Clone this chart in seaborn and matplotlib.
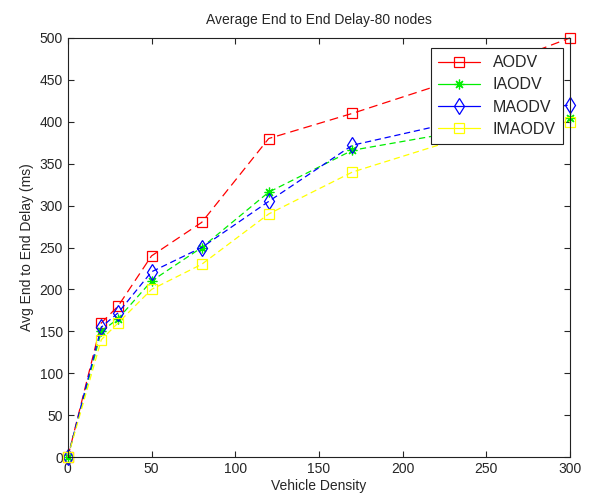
import matplotlib
matplotlib.use('Agg')
import matplotlib.pyplot as plt
import seaborn as sns
import pandas as pd

# ── Data ───────────────────────────────────────────────────────────────────────
density = [0, 20, 30, 50, 80, 120, 170, 250, 300]
aodv    = [0, 160, 180, 240, 280, 380, 410, 462, 500]
iaodv   = [0, 150, 165, 210, 250, 316, 366, 394, 405]
maodv   = [0, 155, 172, 221, 250, 305, 372, 408, 420]
imaodv  = [0, 140, 160, 200, 230, 290, 340, 390, 400]

series = {'AODV': aodv, 'IAODV': iaodv, 'MAODV': maodv, 'IMAODV': imaodv}

sns.set_theme(style='ticks')
plt.rcParams['font.family'] = ['Liberation Sans', 'DejaVu Sans']

# ── Plot ───────────────────────────────────────────────────────────────────────
fig = plt.figure(figsize=(5.95, 4.99), dpi=100)
ax = fig.add_axes([0.114, 0.084, 0.844, 0.840])

styles = {
    'AODV':   dict(color='#ff0000', marker='s', dashes=(7, 4), ms=7),
    'IAODV':  dict(color='#00ee00', marker=(8, 2, 0), dashes=(5, 3), ms=7),
    'MAODV':  dict(color='#0000ff', marker='d', dashes=(5, 3), ms=8),
    'IMAODV': dict(color='#ffff00', marker='s', dashes=(5, 3), ms=7),
}

for name, vals in series.items():
    st = styles[name]
    df = pd.DataFrame({'x': density, 'y': vals})
    sns.lineplot(data=df, x='x', y='y', ax=ax, color=st['color'],
                 marker=st['marker'], markersize=st['ms'],
                 markerfacecolor='none', markeredgecolor=st['color'],
                 markeredgewidth=0.9, linewidth=0.9, label=name)
    ax.lines[-1].set_dashes(st['dashes'])
    ax.lines[-1].set_clip_on(False)

ax.set_xlim(0, 300)
ax.set_ylim(0, 500)
ax.set_xticks(range(0, 301, 50))
ax.set_yticks(range(0, 501, 50))
ax.tick_params(direction='in', top=True, right=True, labelsize=10, length=4, width=0.8)
for sp in ax.spines.values():
    sp.set_linewidth(0.8)
    sp.set_color('#222222')

ax.set_title('Average End to End Delay-80 nodes', fontsize=10, pad=10)
ax.set_xlabel('Vehicle Density', fontsize=10, labelpad=2)
ax.set_ylabel('Avg End to End Delay (ms)', fontsize=10)

leg = ax.legend(loc='upper right', bbox_to_anchor=(0.986, 0.976), fontsize=11.5,
                frameon=True, fancybox=False, framealpha=1, handlelength=2.6,
                borderpad=0.45, labelspacing=0.45, borderaxespad=0)
leg.set_zorder(10)
leg.get_frame().set_edgecolor('#222222')
leg.get_frame().set_linewidth(0.8)
for h in leg.get_lines():
    h.set_linestyle('-')

plt.savefig('out.png', dpi=100)
plt.close()
